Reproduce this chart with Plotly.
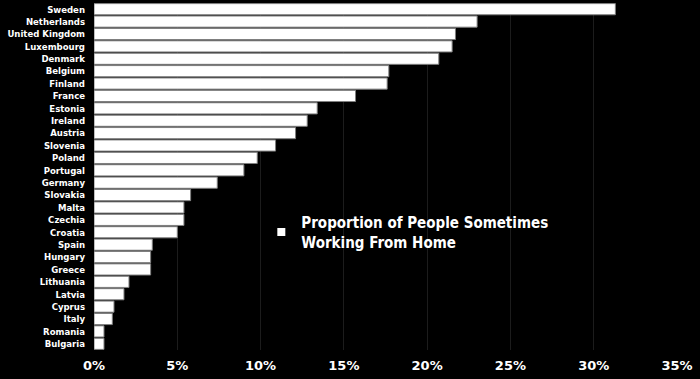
import plotly.graph_objects as go

countries = ["Sweden", "Netherlands", "United Kingdom", "Luxembourg", "Denmark", "Belgium",
             "Finland", "France", "Estonia", "Ireland", "Austria", "Slovenia", "Poland",
             "Portugal", "Germany", "Slovakia", "Malta", "Czechia", "Croatia", "Spain",
             "Hungary", "Greece", "Lithuania", "Latvia", "Cyprus", "Italy", "Romania", "Bulgaria"]
values = [31.3, 23.0, 21.7, 21.5, 20.7, 17.7, 17.6, 15.7, 13.4, 12.8, 12.1, 10.9, 9.8,
          9.0, 7.4, 5.8, 5.4, 5.4, 5.0, 3.5, 3.4, 3.4, 2.1, 1.8, 1.2, 1.1, 0.6, 0.6]
x_ticks = [0, 5, 10, 15, 20, 25, 30, 35]
x_tick_labels = ["0%", "5%", "10%", "15%", "20%", "25%", "30%", "35%"]
series_name = "Proportion of People Sometimes<br>Working From Home"

fig = go.Figure()
fig.add_trace(go.Bar(
    x=values, y=countries, orientation="h", name=series_name,
    marker=dict(color="#ffffff", line=dict(color="#7f7f7f", width=1)),
    showlegend=False, legendgroup="s",
))
# legend entry (small square marker like the reference)
fig.add_trace(go.Scatter(
    x=[None], y=[None], mode="markers", name=series_name, legendgroup="s",
    marker=dict(symbol="square", size=8, color="#ffffff"),
    showlegend=True, hoverinfo="skip",
))

fig.update_layout(
    width=700, height=379,
    margin=dict(l=94, r=23, t=3, b=29, autoexpand=False),
    paper_bgcolor="#000000", plot_bgcolor="#000000",
    bargap=0.1,
    font=dict(family="DejaVu Sans", color="#ffffff"),
    showlegend=True,
    legend=dict(
        x=0.287, y=0.415, xanchor="left", yanchor="top",
        bgcolor="rgba(0,0,0,0)",
        font=dict(family="DejaVu Sans Condensed", size=15, color="#ffffff", weight="bold"),
        itemwidth=30,
    ),
    xaxis=dict(
        range=[0, 35], tickvals=x_ticks, ticktext=x_tick_labels,
        showgrid=True, gridcolor="#1c1c1c", gridwidth=1,
        zeroline=False, showline=False,
        tickfont=dict(family="DejaVu Sans", size=13, color="#ffffff", weight="bold"),
        ticklabelstandoff=6, fixedrange=True, automargin=False,
    ),
    yaxis=dict(
        autorange="reversed", showgrid=False, zeroline=False, showline=False,
        tickfont=dict(family="DejaVu Sans Condensed", size=9.5, color="#ffffff", weight="bold"),
        ticklabelstandoff=8, automargin=False,
    ),
)

fig.write_html("out.html", config={"displayModeBar": False},
               post_script="document.body.style.margin='0';document.body.style.background='#000';")
